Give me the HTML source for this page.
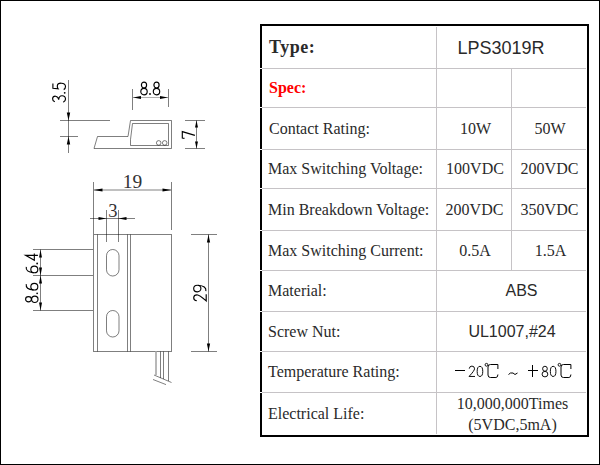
<!DOCTYPE html>
<html><head><meta charset="utf-8"><style>
html,body{margin:0;padding:0;background:#fff;}
body{width:600px;height:465px;position:relative;overflow:hidden;}
#frame{position:absolute;left:0;top:0;width:598px;height:463px;border:1px solid #000;}
svg{position:absolute;left:0;top:0;}
</style></head><body>
<div id="frame"></div>
<div style="position:absolute;left:260px;top:24px;width:329px;height:2px;background:#000"></div>
<div style="position:absolute;left:260px;top:435px;width:329px;height:2px;background:#000"></div>
<div style="position:absolute;left:260px;top:24px;width:2px;height:413px;background:#000"></div>
<div style="position:absolute;left:587px;top:24px;width:2px;height:413px;background:#000"></div>
<div style="position:absolute;left:262px;top:68px;width:324px;height:1px;background:#c6c3c6"></div>
<div style="position:absolute;left:260px;top:68px;width:2px;height:1px;background:#fff"></div>
<div style="position:absolute;left:262px;top:107px;width:324px;height:1px;background:#c6c3c6"></div>
<div style="position:absolute;left:260px;top:107px;width:2px;height:1px;background:#fff"></div>
<div style="position:absolute;left:262px;top:149px;width:324px;height:1px;background:#c6c3c6"></div>
<div style="position:absolute;left:260px;top:149px;width:2px;height:1px;background:#fff"></div>
<div style="position:absolute;left:262px;top:188px;width:324px;height:1px;background:#c6c3c6"></div>
<div style="position:absolute;left:260px;top:188px;width:2px;height:1px;background:#fff"></div>
<div style="position:absolute;left:262px;top:230px;width:324px;height:1px;background:#c6c3c6"></div>
<div style="position:absolute;left:260px;top:230px;width:2px;height:1px;background:#fff"></div>
<div style="position:absolute;left:262px;top:270px;width:324px;height:1px;background:#c6c3c6"></div>
<div style="position:absolute;left:260px;top:270px;width:2px;height:1px;background:#fff"></div>
<div style="position:absolute;left:262px;top:311px;width:324px;height:1px;background:#c6c3c6"></div>
<div style="position:absolute;left:260px;top:311px;width:2px;height:1px;background:#fff"></div>
<div style="position:absolute;left:262px;top:351px;width:324px;height:1px;background:#c6c3c6"></div>
<div style="position:absolute;left:260px;top:351px;width:2px;height:1px;background:#fff"></div>
<div style="position:absolute;left:262px;top:392px;width:324px;height:1px;background:#c6c3c6"></div>
<div style="position:absolute;left:260px;top:392px;width:2px;height:1px;background:#fff"></div>
<div style="position:absolute;left:436px;top:27px;width:1px;height:407px;background:#c6c3c6"></div>
<div style="position:absolute;left:511px;top:68px;width:1px;height:202px;background:#c6c3c6"></div>
<svg width="600" height="465" viewBox="0 0 600 465">
<line x1="68.5" y1="80" x2="68.5" y2="153" stroke="rgba(0,0,0,0.5)" stroke-width="1"/>
<line x1="60" y1="120.5" x2="110" y2="120.5" stroke="rgba(0,0,0,0.5)" stroke-width="1"/>
<line x1="60" y1="136.5" x2="78" y2="136.5" stroke="rgba(0,0,0,0.5)" stroke-width="1"/>
<polygon points="68.50,120.50 66.80,112.50 70.20,112.50" fill="#000"/>
<polygon points="68.50,136.50 66.80,144.50 70.20,144.50" fill="#000"/>
<line x1="132.5" y1="89" x2="132.5" y2="110" stroke="rgba(0,0,0,0.5)" stroke-width="1"/>
<line x1="168.5" y1="89" x2="168.5" y2="107" stroke="rgba(0,0,0,0.5)" stroke-width="1"/>
<line x1="133" y1="97.5" x2="168" y2="97.5" stroke="#b0b0b0" stroke-width="1"/>
<polygon points="133.00,97.50 141.00,96.00 141.00,99.00" fill="#000"/>
<polygon points="168.00,97.50 160.00,96.00 160.00,99.00" fill="#000"/>
<path d="M94,148.5 L97.5,136.5 L128,136.5 L130.5,120.5 L171.5,120.5 L171.5,148.5 Z" fill="none" stroke="rgba(0,0,0,0.5)" stroke-width="1"/>
<path d="M132.5,123.5 L168.5,123.5 L168.5,145.5 L130.5,145.5 L130.5,139.5 Z" fill="none" stroke="rgba(0,0,0,0.5)" stroke-width="1"/>
<circle cx="158.7" cy="142.9" r="2.3" fill="none" stroke="rgba(0,0,0,0.5)" stroke-width="1"/>
<circle cx="164.7" cy="142.9" r="2.3" fill="none" stroke="rgba(0,0,0,0.5)" stroke-width="1"/>
<line x1="185" y1="120.5" x2="205" y2="120.5" stroke="rgba(0,0,0,0.5)" stroke-width="1"/>
<line x1="185" y1="148.5" x2="205" y2="148.5" stroke="rgba(0,0,0,0.5)" stroke-width="1"/>
<line x1="196.5" y1="120.5" x2="196.5" y2="148.5" stroke="rgba(0,0,0,0.5)" stroke-width="1"/>
<polygon points="196.50,120.50 195.00,127.50 198.00,127.50" fill="#000"/>
<polygon points="196.50,148.50 195.00,141.50 198.00,141.50" fill="#000"/>
<line x1="93.5" y1="182" x2="93.5" y2="234" stroke="rgba(0,0,0,0.5)" stroke-width="1"/>
<line x1="171.5" y1="182" x2="171.5" y2="230" stroke="rgba(0,0,0,0.5)" stroke-width="1"/>
<line x1="94" y1="190" x2="171" y2="190" stroke="#c0c0c0" stroke-width="2"/>
<polygon points="93.50,190.00 102.50,188.40 102.50,191.60" fill="#000"/>
<polygon points="171.50,190.00 162.50,188.40 162.50,191.60" fill="#000"/>
<line x1="106.5" y1="210" x2="106.5" y2="242" stroke="rgba(0,0,0,0.5)" stroke-width="1"/>
<line x1="118.5" y1="210" x2="118.5" y2="242" stroke="rgba(0,0,0,0.5)" stroke-width="1"/>
<line x1="90" y1="218.5" x2="135" y2="218.5" stroke="rgba(0,0,0,0.5)" stroke-width="1"/>
<polygon points="106.50,218.50 98.50,217.00 98.50,220.00" fill="#000"/>
<polygon points="118.50,218.50 126.50,217.00 126.50,220.00" fill="#000"/>
<rect x="93.5" y="234.5" width="78" height="117" fill="none" stroke="rgba(0,0,0,0.5)" stroke-width="1"/>
<line x1="97.5" y1="234.5" x2="97.5" y2="351.5" stroke="rgba(0,0,0,0.5)" stroke-width="1"/>
<line x1="127.5" y1="234.5" x2="127.5" y2="351.5" stroke="rgba(0,0,0,0.5)" stroke-width="1"/>
<line x1="130.5" y1="234.5" x2="130.5" y2="351.5" stroke="rgba(0,0,0,0.5)" stroke-width="1"/>
<rect x="106.5" y="249.5" width="12.5" height="26.5" rx="6.2" ry="6.2" fill="none" stroke="rgba(0,0,0,0.5)" stroke-width="1"/>
<rect x="106.5" y="310.5" width="12.5" height="26.5" rx="6.2" ry="6.2" fill="none" stroke="rgba(0,0,0,0.5)" stroke-width="1"/>
<line x1="33" y1="249.5" x2="93" y2="249.5" stroke="rgba(0,0,0,0.5)" stroke-width="1"/>
<line x1="33" y1="275.5" x2="93" y2="275.5" stroke="rgba(0,0,0,0.5)" stroke-width="1"/>
<line x1="33" y1="310.5" x2="93" y2="310.5" stroke="rgba(0,0,0,0.5)" stroke-width="1"/>
<line x1="40.5" y1="249.5" x2="40.5" y2="310.5" stroke="rgba(0,0,0,0.5)" stroke-width="1"/>
<polygon points="40.50,249.50 39.00,257.50 42.00,257.50" fill="#000"/>
<polygon points="40.50,275.50 39.00,267.50 42.00,267.50" fill="#000"/>
<polygon points="40.50,275.50 39.00,283.50 42.00,283.50" fill="#000"/>
<polygon points="40.50,310.50 39.00,302.50 42.00,302.50" fill="#000"/>
<line x1="191" y1="234.5" x2="217" y2="234.5" stroke="rgba(0,0,0,0.5)" stroke-width="1"/>
<line x1="191" y1="351.5" x2="217" y2="351.5" stroke="rgba(0,0,0,0.5)" stroke-width="1"/>
<line x1="208.5" y1="234.5" x2="208.5" y2="351.5" stroke="rgba(0,0,0,0.5)" stroke-width="1"/>
<polygon points="208.50,234.50 206.90,242.50 210.10,242.50" fill="#000"/>
<polygon points="208.50,351.50 206.90,343.50 210.10,343.50" fill="#000"/>
<line x1="156" y1="351.5" x2="156" y2="375" stroke="#b8b8b8" stroke-width="2"/>
<line x1="160.5" y1="351.5" x2="160.5" y2="378" stroke="rgba(0,0,0,0.5)" stroke-width="1"/>
<line x1="163.5" y1="351.5" x2="163.5" y2="379" stroke="rgba(0,0,0,0.5)" stroke-width="1"/>
<line x1="168.5" y1="351.5" x2="168.5" y2="381" stroke="rgba(0,0,0,0.5)" stroke-width="1"/>
<line x1="154" y1="375" x2="171.5" y2="382.5" stroke="rgba(0,0,0,0.5)" stroke-width="1"/>
<line x1="153" y1="379.5" x2="166" y2="384.6" stroke="rgba(0,0,0,0.5)" stroke-width="1"/>
<g transform="translate(52.50,102.30) rotate(-90) scale(1.000,1.000)" fill="none" stroke="#000" stroke-width="1.15"><g transform="translate(0.00,0)"><path d="M0.5,2.3 Q1.5,0 3.6,0.1 Q6.2,0.3 6.1,3 Q5.8,5.9 2.5,6.2 Q6.6,6.5 6.5,9.6 Q6.3,12.9 3.3,13 Q1,13 0.2,10.8"/></g><g transform="translate(8.50,0)"><circle cx="1" cy="12.2" r="0.9" fill="#000" stroke="none"/></g><g transform="translate(12.50,0)"><path d="M6.2,0.4 L1.6,0.4 L1,5.6 Q2.2,4.7 3.8,4.8 Q6.7,5.1 6.6,8.8 Q6.4,12.9 3.3,13 Q1,13 0.2,11.2"/></g></g>
<g transform="translate(140.50,81.80) scale(1.000,1.000)" fill="none" stroke="#000" stroke-width="1.15"><g transform="translate(0.00,0)"><ellipse cx="3.5" cy="3.3" rx="2.6" ry="3"/><ellipse cx="3.5" cy="9.8" rx="3.2" ry="3.3"/></g><g transform="translate(8.50,0)"><circle cx="1" cy="12.2" r="0.9" fill="#000" stroke="none"/></g><g transform="translate(12.50,0)"><ellipse cx="3.5" cy="3.3" rx="2.6" ry="3"/><ellipse cx="3.5" cy="9.8" rx="3.2" ry="3.3"/></g></g>
<g transform="translate(181.90,138.60) rotate(-90) scale(1.000,1.000)" fill="none" stroke="#000" stroke-width="1.15"><g transform="translate(0.00,0)"><path d="M0.2,2.6 L0.6,0.4 L7,0.4 L3.2,13"/></g></g>
<g transform="translate(25.30,273.00) rotate(-90) scale(1.000,0.970)" fill="none" stroke="#000" stroke-width="1.15"><g transform="translate(0.00,0)"><ellipse cx="3.6" cy="9.3" rx="3.3" ry="3.6"/><path d="M6.2,1 Q1,0 0.3,8.5"/></g><g transform="translate(8.50,0)"><circle cx="1" cy="12.2" r="0.9" fill="#000" stroke="none"/></g><g transform="translate(12.50,0)"><path d="M5.2,13 L5.2,0.3 L0.2,9.3 L7,9.3"/></g></g>
<g transform="translate(25.30,302.80) rotate(-90) scale(1.000,0.970)" fill="none" stroke="#000" stroke-width="1.15"><g transform="translate(0.00,0)"><ellipse cx="3.5" cy="3.3" rx="2.6" ry="3"/><ellipse cx="3.5" cy="9.8" rx="3.2" ry="3.3"/></g><g transform="translate(8.50,0)"><circle cx="1" cy="12.2" r="0.9" fill="#000" stroke="none"/></g><g transform="translate(12.50,0)"><ellipse cx="3.6" cy="9.3" rx="3.3" ry="3.6"/><path d="M6.2,1 Q1,0 0.3,8.5"/></g></g>
<g transform="translate(193.60,301.20) rotate(-90) scale(1.000,1.000)" fill="none" stroke="#000" stroke-width="1.15"><g transform="translate(0.00,0)"><path d="M0.5,3.2 Q0.8,0.1 3.5,0.1 Q6.4,0.2 6.4,3.4 Q6.3,5.6 0.3,12.6 L6.9,12.6"/></g><g transform="translate(9.30,0)"><ellipse cx="3.4" cy="3.7" rx="3.3" ry="3.6"/><path d="M6.7,4.5 Q6,13 0.8,12.3"/></g></g>
<text x="0" y="0" font-family="Liberation Serif" font-size="19.5" text-anchor="middle" dominant-baseline="central" transform="translate(132.5,181) rotate(0) scale(1.0,1)" fill="#333">19</text>
<text x="0" y="0" font-family="Liberation Serif" font-size="19.5" text-anchor="middle" dominant-baseline="central" transform="translate(113,210) rotate(0) scale(0.95,1)" fill="#333">3</text>
<line x1="455" y1="370.5" x2="465" y2="370.5" stroke="#000" stroke-width="1"/>
<line x1="528" y1="370.5" x2="538" y2="370.5" stroke="#000" stroke-width="1"/>
<line x1="532.5" y1="365" x2="532.5" y2="377" stroke="#000" stroke-width="1"/>
<path d="M508.5,374.5 L510.5,373 L513,373 L515,374.5 L517.5,373" fill="none" stroke="#000" stroke-width="1"/>
<circle cx="486.5" cy="364.8" r="1.4" fill="none" stroke="#000" stroke-width="0.9"/><path d="M497.9,369 L497.9,364.5 L490.5,364.5 Q488.0,364.5 488.0,367 L488.0,375 Q488.0,377.5 490.5,377.5 L495.9,377.5 Q497.9,377.5 497.9,374.5" fill="none" stroke="#000" stroke-width="1"/>
<circle cx="559.5" cy="364.8" r="1.4" fill="none" stroke="#000" stroke-width="0.9"/><path d="M570.9,369 L570.9,364.5 L563.5,364.5 Q561.0,364.5 561.0,367 L561.0,375 Q561.0,377.5 563.5,377.5 L568.9,377.5 Q570.9,377.5 570.9,374.5" fill="none" stroke="#000" stroke-width="1"/>
<g transform="translate(468.80,366.00) scale(0.900,0.830)" fill="none" stroke="#000" stroke-width="1.10"><g transform="translate(0.00,0)"><path d="M0.5,3.2 Q0.8,0.1 3.5,0.1 Q6.4,0.2 6.4,3.4 Q6.3,5.6 0.3,12.6 L6.9,12.6"/></g><g transform="translate(8.90,0)"><ellipse cx="3.5" cy="6.5" rx="3.1" ry="6.1"/></g></g>
<g transform="translate(541.80,366.00) scale(0.900,0.830)" fill="none" stroke="#000" stroke-width="1.10"><g transform="translate(0.00,0)"><ellipse cx="3.5" cy="3.3" rx="2.6" ry="3"/><ellipse cx="3.5" cy="9.8" rx="3.2" ry="3.3"/></g><g transform="translate(9.10,0)"><ellipse cx="3.5" cy="6.5" rx="3.1" ry="6.1"/></g></g>
</svg>
<div style="position:absolute;left:269px;top:37px;font-family:'Liberation Serif';font-size:18px;line-height:20px;white-space:nowrap;color:#2a2a2a;letter-spacing:0.5px;font-weight:bold;">Type:</div>
<div style="position:absolute;left:269px;top:78px;font-family:'Liberation Serif';font-size:16px;line-height:20px;white-space:nowrap;color:#ff0000;font-weight:bold;">Spec:</div>
<div style="position:absolute;left:269px;top:119px;font-family:'Liberation Serif';font-size:16px;line-height:20px;white-space:nowrap;color:#2a2a2a;">Contact Rating:</div>
<div style="position:absolute;left:268px;top:159px;font-family:'Liberation Serif';font-size:16px;line-height:20px;white-space:nowrap;color:#2a2a2a;">Max Switching Voltage:</div>
<div style="position:absolute;left:268px;top:200px;font-family:'Liberation Serif';font-size:16px;line-height:20px;white-space:nowrap;color:#2a2a2a;">Min Breakdown Voltage:</div>
<div style="position:absolute;left:268px;top:241px;font-family:'Liberation Serif';font-size:16px;line-height:20px;white-space:nowrap;color:#2a2a2a;">Max Switching Current:</div>
<div style="position:absolute;left:268px;top:281px;font-family:'Liberation Serif';font-size:16px;line-height:20px;white-space:nowrap;color:#2a2a2a;">Material:</div>
<div style="position:absolute;left:268px;top:322px;font-family:'Liberation Serif';font-size:16px;line-height:20px;white-space:nowrap;color:#2a2a2a;">Screw Nut:</div>
<div style="position:absolute;left:268px;top:362px;font-family:'Liberation Serif';font-size:16px;line-height:20px;white-space:nowrap;color:#2a2a2a;">Temperature Rating:</div>
<div style="position:absolute;left:268px;top:404px;font-family:'Liberation Serif';font-size:16px;line-height:20px;white-space:nowrap;color:#2a2a2a;">Electrical Life:</div>
<div style="position:absolute;left:401px;top:38px;font-family:'Liberation Sans';font-size:18px;line-height:20px;white-space:nowrap;color:#2a2a2a;width:200px;text-align:center;">LPS3019R</div>
<div style="position:absolute;left:375.5px;top:119px;font-family:'Liberation Serif';font-size:16px;line-height:20px;white-space:nowrap;color:#2a2a2a;width:200px;text-align:center;">10W</div>
<div style="position:absolute;left:450px;top:119px;font-family:'Liberation Serif';font-size:16px;line-height:20px;white-space:nowrap;color:#2a2a2a;width:200px;text-align:center;">50W</div>
<div style="position:absolute;left:375px;top:159px;font-family:'Liberation Serif';font-size:16px;line-height:20px;white-space:nowrap;color:#2a2a2a;width:200px;text-align:center;">100VDC</div>
<div style="position:absolute;left:449.5px;top:159px;font-family:'Liberation Serif';font-size:16px;line-height:20px;white-space:nowrap;color:#2a2a2a;width:200px;text-align:center;">200VDC</div>
<div style="position:absolute;left:374.5px;top:200px;font-family:'Liberation Serif';font-size:16px;line-height:20px;white-space:nowrap;color:#2a2a2a;width:200px;text-align:center;">200VDC</div>
<div style="position:absolute;left:449.5px;top:200px;font-family:'Liberation Serif';font-size:16px;line-height:20px;white-space:nowrap;color:#2a2a2a;width:200px;text-align:center;">350VDC</div>
<div style="position:absolute;left:375px;top:241px;font-family:'Liberation Serif';font-size:16px;line-height:20px;white-space:nowrap;color:#2a2a2a;width:200px;text-align:center;">0.5A</div>
<div style="position:absolute;left:450.5px;top:241px;font-family:'Liberation Serif';font-size:16px;line-height:20px;white-space:nowrap;color:#2a2a2a;width:200px;text-align:center;">1.5A</div>
<div style="position:absolute;left:421.5px;top:281px;font-family:'Liberation Sans';font-size:16px;line-height:20px;white-space:nowrap;color:#2a2a2a;width:200px;text-align:center;">ABS</div>
<div style="position:absolute;left:412px;top:322px;font-family:'Liberation Sans';font-size:16px;line-height:20px;white-space:nowrap;color:#2a2a2a;width:200px;text-align:center;">UL1007,#24</div>
<div style="position:absolute;left:412.5px;top:394px;font-family:'Liberation Serif';font-size:16px;line-height:20px;white-space:nowrap;color:#2a2a2a;width:200px;text-align:center;">10,000,000Times</div>
<div style="position:absolute;left:412.5px;top:415px;font-family:'Liberation Serif';font-size:16px;line-height:20px;white-space:nowrap;color:#2a2a2a;width:200px;text-align:center;">(5VDC,5mA)</div>
</body></html>
